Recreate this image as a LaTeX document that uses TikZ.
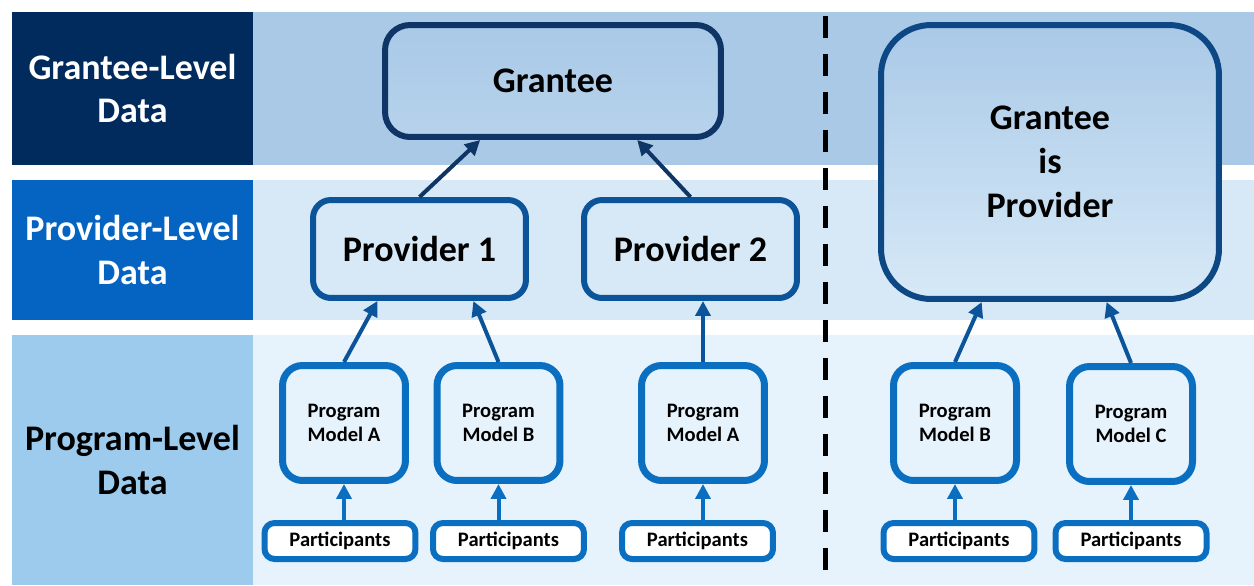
\documentclass[tikz,border=0pt]{standalone}
\usepackage{fontspec}
\setmainfont{Carlito}
\usepackage{tikz}
\usetikzlibrary{arrows.meta}

\definecolor{gnavy}{HTML}{002B5C}
\definecolor{pblue}{HTML}{0563C1}
\definecolor{mblue}{HTML}{9DCBEE}
\definecolor{bandA}{HTML}{A9C9E7}
\definecolor{bandB}{HTML}{D7E9F7}
\definecolor{bandC}{HTML}{E7F3FC}
\definecolor{grantline}{HTML}{0F3566}
\definecolor{provline}{HTML}{0B549A}
\definecolor{progline}{HTML}{0A6EC1}
\definecolor{gipline}{HTML}{0D4885}

\tikzset{
	lvl/.style={inner sep=0pt, outer sep=0pt, minimum width=4.82cm, align=center,
		font=\fontsize{20.5}{24.5}\selectfont\bfseries},
	grantbox/.style={draw=grantline, line width=0.12cm, rounded corners=0.5cm, align=center,
		top color=bandA, bottom color=bandA!70!bandB, inner sep=0pt,
		font=\fontsize{20.5}{25}\selectfont\bfseries},
	provbox/.style={draw=provline, line width=0.12cm, rounded corners=0.36cm, fill=bandB,
		minimum width=4.26cm, minimum height=1.96cm, inner sep=0pt,
		font=\fontsize{20.5}{25}\selectfont\bfseries},
	progbox/.style={draw=progline, line width=0.14cm, rounded corners=0.4cm, fill=bandC,
		minimum width=2.46cm, minimum height=2.3cm, inner sep=0pt, align=center,
		font=\fontsize{11.7}{13.7}\selectfont\bfseries},
	partbox/.style={draw=progline, line width=0.12cm, rounded corners=0.2cm, fill=white,
		minimum width=3.02cm, minimum height=0.72cm, inner sep=0pt,
		font=\fontsize{11.7}{13.7}\selectfont\bfseries},
	arr/.style={-{Triangle[length=0.3cm,width=0.3cm]}, line width=0.08cm}
}

\begin{document}
\begin{tikzpicture}[x=0.02cm, y=-0.02cm]
	\useasboundingbox (0,0) rectangle (1254,585);
	% Bands and level labels:
	\fill[bandA] (253,12) rectangle (1254,165);
	\fill[bandB] (253,180) rectangle (1254,320);
	\fill[bandC] (253,335) rectangle (1254,585);
	\node[lvl, fill=gnavy, text=white, minimum height=3.06cm] (L1) at (132.5,88.5) {Grantee-Level\\Data};
	\node[lvl, fill=pblue, text=white, minimum height=2.8cm] (L2) at (132.5,250) {Provider-Level\\Data};
	\node[lvl, fill=mblue, text=black, minimum height=5cm] (L3) at (132.5,460) {Program-Level\\Data};
	\draw[line width=0.1cm, dash pattern=on 0.44cm off 0.32cm] (825,16) -- (825,578);

	% Boxes:
	\node[grantbox, minimum width=6.72cm, minimum height=2.24cm] (G) at (553,81) {Grantee};
	\node[grantbox, draw=gipline, bottom color=bandB, rounded corners=1cm,
		minimum width=6.76cm, minimum height=5.48cm] (GP) at (1050,162) {Grantee\\is\\Provider};
	\node[provbox] (P1) at (419.5,249) {Provider 1};
	\node[provbox] (P2) at (690.5,249) {Provider 2};
	\node[progbox] (M1) at (344,423) {Program\\Model A};
	\node[progbox] (M2) at (498.5,423) {Program\\Model B};
	\node[progbox] (M3) at (703,423) {Program\\Model A};
	\node[progbox] (M4) at (955,423) {Program\\Model B};
	\node[progbox] (M5) at (1131,424) {Program\\Model C};
	\node[partbox] (S1) at (340,541) {Participants};
	\node[partbox] (S2) at (508.5,541) {Participants};
	\node[partbox] (S3) at (697.5,541) {Participants};
	\node[partbox] (S4) at (959,541) {Participants};
	\node[partbox] (S5) at (1131,541) {Participants};

	% Arrows:
	\draw[arr, grantline] (P1.north) -- (G.219);
	\draw[arr, grantline] (P2.north) -- (G.325);
	\draw[arr, provline] (M1.north) -- (P1.231);
	\draw[arr, provline] (M2.north) -- (P1.316);
	\draw[arr, provline] (M3.north) -- (M3.north |- P2.south);
	\draw[arr, provline] (M4.north) -- (GP.244);
	\draw[arr, provline] (M5.north) -- (GP.292);
	\foreach \s/\m in {S1/M1, S2/M2, S3/M3, S4/M4, S5/M5}
		\draw[arr, progline] (\s.north -| \m.south) -- (\m.south);
\end{tikzpicture}
\end{document}
